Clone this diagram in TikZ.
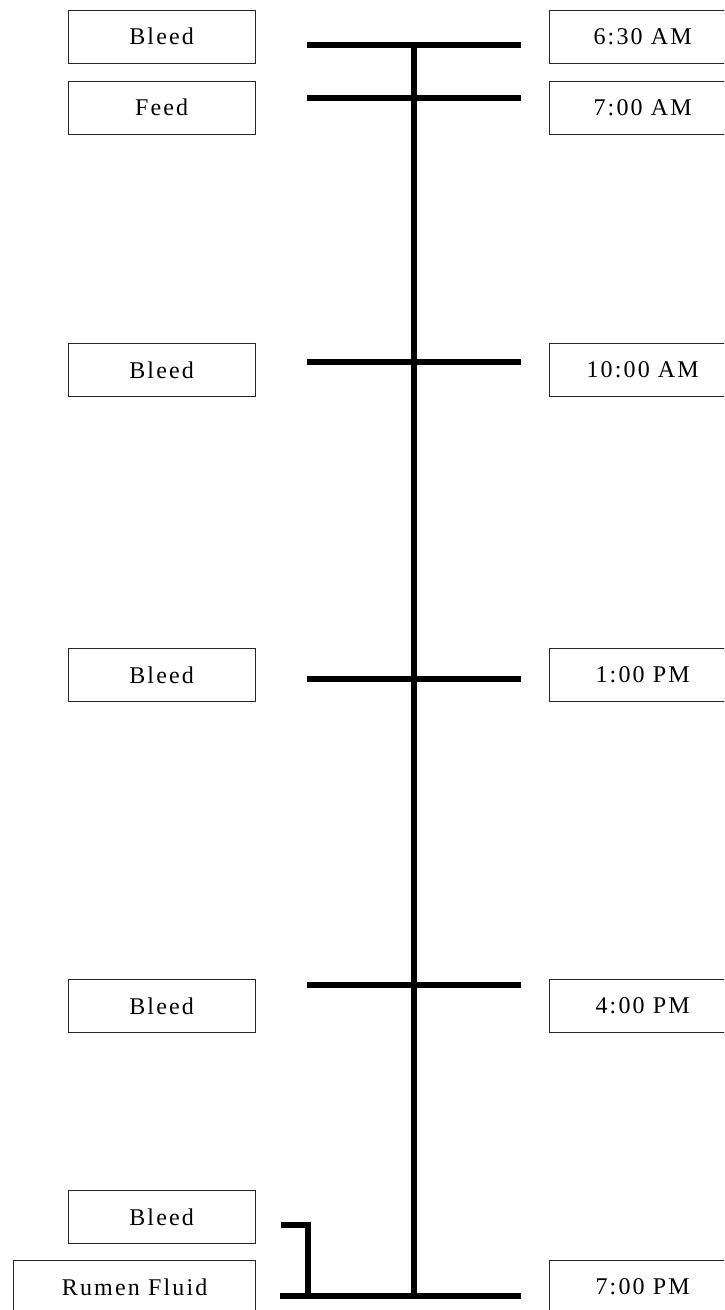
\documentclass[tikz,border=0pt]{standalone}
\usepackage{fontspec}
\setmainfont{Liberation Serif}[LetterSpace=9]
\begin{document}
\begin{tikzpicture}[x=1pt,y=-1pt,
  lbl/.style={draw=black!85,line width=1.3pt,minimum width=187pt,minimum height=53pt,inner sep=0pt,
    font=\fontsize{24}{28}\selectfont,anchor=north west},
  bar/.style={line width=6pt,black}]
\useasboundingbox (0,0) rectangle (724,1310);
\clip (0,0) rectangle (724,1310);
% left labels
\node[lbl] (l1) at (67.5,9.5) {Bleed};
\node[lbl] (l2) at (67.5,80.5) {Feed};
\node[lbl] (l3) at (67.5,343) {Bleed};
\node[lbl] (l4) at (67.5,648) {Bleed};
\node[lbl] (l5) at (67.5,979) {Bleed};
\node[lbl] (l6) at (67.5,1190) {Bleed};
\node[lbl,minimum width=242pt] (l7) at (13,1260) {Rumen Fluid};
% right labels
\node[lbl] (r1) at (548.5,9.5) {6:30 AM};
\node[lbl] (r2) at (548.5,80.5) {7:00 AM};
\node[lbl] (r3) at (548.5,343) {10:00 AM};
\node[lbl] (r4) at (548.5,648) {1:00 PM};
\node[lbl] (r5) at (548.5,979) {4:00 PM};
\node[lbl] (r7) at (548.5,1260) {7:00 PM};
% timeline coordinates
\coordinate (a1) at (307,44.5);  \coordinate (b1) at (521,44.5);
\coordinate (a2) at (307,97.5);  \coordinate (b2) at (521,97.5);
\coordinate (a3) at (307,362);   \coordinate (b3) at (521,362);
\coordinate (a4) at (307,679);   \coordinate (b4) at (521,679);
\coordinate (a5) at (307,985);   \coordinate (b5) at (521,985);
\coordinate (a7) at (280,1295.5); \coordinate (b7) at (521,1295.5);
\coordinate (top) at (414,44.5);
\coordinate (bot) at (414,1295.5);
\coordinate (k1) at (281,1225);
\coordinate (k2) at (307.5,1225);
\coordinate (k3) at (307.5,1295.5);
% spine
\draw[bar,line width=6.5pt] (top) -- (bot);
\foreach \i in {1,2,3,4,5,7} {\draw[bar] (a\i) -- (b\i);}
% bracket
\draw[bar] (k1) -- (k2) -- (k3);
\end{tikzpicture}
\end{document}
